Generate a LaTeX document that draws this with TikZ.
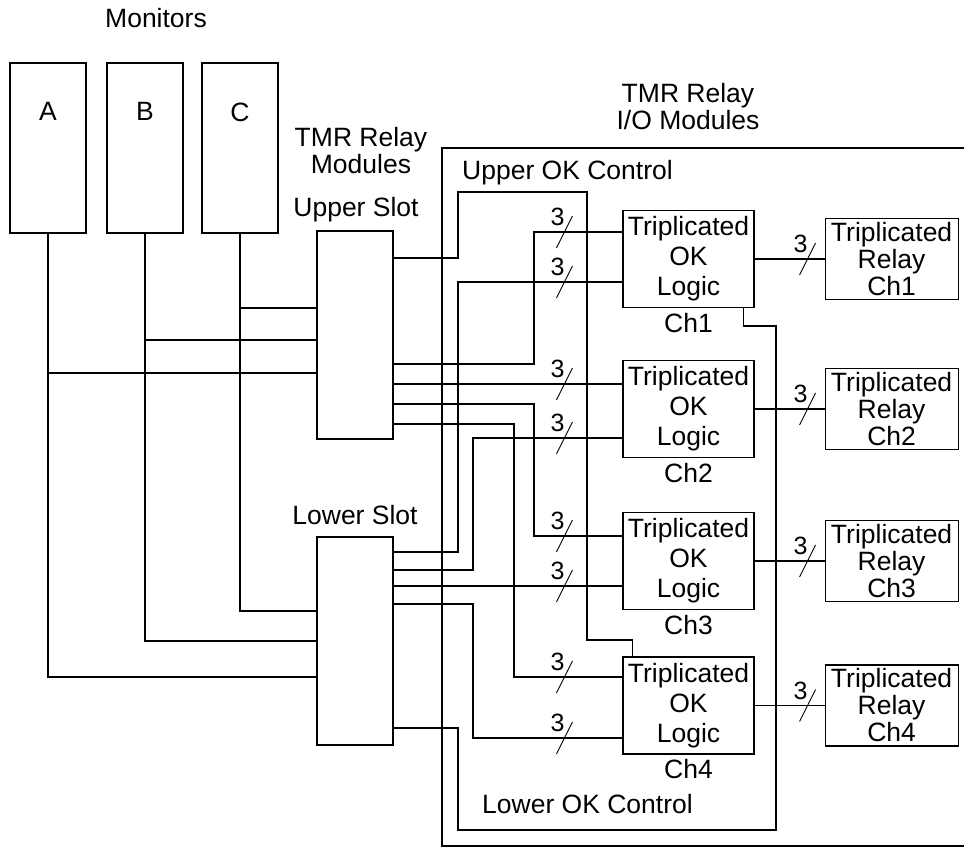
\documentclass[tikz,border=0pt]{standalone}
\usepackage{fontspec}
\setmainfont{Liberation Sans}
\usetikzlibrary{positioning, calc}

\begin{document}
\begin{tikzpicture}[
    x=1pt, y=-1pt,
    wire/.style={line width=1.1pt},
    box/.style={rectangle, draw, line width=1.1pt, inner sep=0pt, align=center, font=\fontsize{26.5}{27}\selectfont},
    monbox/.style={box, minimum width=76pt, minimum height=170pt},
    slotbox/.style={box, minimum width=76pt, minimum height=208pt},
    okbox/.style={box, minimum width=131pt, minimum height=97pt, font=\fontsize{26.5}{30}\selectfont},
    relaybox/.style={box, minimum width=133pt, minimum height=81pt},
    lbl/.style={inner sep=0pt, align=center, font=\fontsize{26.5}{27}\selectfont},
    numlbl/.style={inner sep=0pt, font=\fontsize{25}{25}\selectfont},
    busmark/.pic={\draw[line width=0.9pt] (-8,16) -- (8,-16); \node[numlbl, anchor=base] at (-7,-6.5) {3};},
]
\useasboundingbox (0,0) rectangle (964,850);

% Monitors
\node[lbl, anchor=base] (montitle) at (156,28) {Monitors};
\node[monbox] (monA) at (48,148) {};
\node[monbox] (monB) at (145,148) {};
\node[monbox] (monC) at (240,148) {};
\node[lbl, below=40pt of monA.north] (labA) {A};
\node[lbl, below=40pt of monB.north] (labB) {B};
\node[lbl, below=40pt of monC.north] (labC) {C};

% Relay modules
\node[lbl] (relmod) at (361,151) {TMR Relay\\Modules};
\node[lbl, anchor=base] (uptitle) at (356,217) {Upper Slot};
\node[slotbox] (up) at (355,335) {};
\node[lbl, anchor=base] (lotitle) at (355,524) {Lower Slot};
\node[slotbox] (lo) at (355,641) {};

% I/O modules
\node[lbl] (iotitle) at (688,107) {TMR Relay\\I/O Modules};
\draw[wire] (964,148) -| (442,846) -- (964,846);
\node[lbl, anchor=base west] (upctl) at (462,180) {Upper OK Control};
\node[lbl, anchor=base west] (loctl) at (482,813) {Lower OK Control};

\node[okbox] (ok1) at (688.5,259) {Triplicated\\OK\\Logic};
\node[okbox] (ok2) at (688.5,409) {Triplicated\\OK\\Logic};
\node[okbox] (ok3) at (688.5,561) {Triplicated\\OK\\Logic};
\node[okbox] (ok4) at (688.5,705.5) {Triplicated\\OK\\Logic};
\node[lbl, below=5pt of ok1] (ch1) {Ch1};
\node[lbl, below=5pt of ok2] (ch2) {Ch2};
\node[lbl, below=5pt of ok3] (ch3) {Ch3};
\node[lbl, below=5pt of ok4] (ch4) {Ch4};

\node[relaybox, right=70pt of ok1] (rel1) {Triplicated\\Relay\\Ch1};
\node[relaybox, right=70pt of ok2] (rel2) {Triplicated\\Relay\\Ch2};
\node[relaybox, right=70pt of ok3] (rel3) {Triplicated\\Relay\\Ch3};
\node[relaybox, right=70pt of ok4] (rel4) {Triplicated\\Relay\\Ch4};

% Input pins
\coordinate (ok1a) at (ok1.west |- 0,232);
\coordinate (ok1b) at (ok1.west |- 0,282);
\coordinate (ok2a) at (ok2.west |- 0,384);
\coordinate (ok2b) at (ok2.west |- 0,438);
\coordinate (ok3a) at (ok3.west |- 0,536);
\coordinate (ok3b) at (ok3.west |- 0,586);
\coordinate (ok4a) at (ok4.west |- 0,677);
\coordinate (ok4b) at (ok4.west |- 0,738);

% Monitor wires
\draw[wire] (monA.south) |- (lo.west |- 0,677);
\draw[wire] (monA.south |- 0,373) -- (up.west |- 0,373);
\draw[wire] (monB.south) |- (lo.west |- 0,641);
\draw[wire] (monB.south |- 0,340) -- (up.west |- 0,340);
\draw[wire] (monC.south) |- (lo.west |- 0,611);
\draw[wire] (monC.south |- 0,308) -- (up.west |- 0,308);

% Upper slot
\draw[wire] (up.east |- 0,258) -| (458,192) -| (587,640) -| ($(ok4.north west)+(10,0)$);
\draw[wire] (up.east |- 0,364) -| (534,232) -- (ok1a);
\draw[wire] (up.east |- 0,384) -- (ok2a);
\draw[wire] (up.east |- 0,404) -| (534,536) -- (ok3a);
\draw[wire] (up.east |- 0,424) -| (514,677) -- (ok4a);

% Lower slot
\draw[wire] (lo.east |- 0,552) -| (458,282) -- (ok1b);
\draw[wire] (lo.east |- 0,570) -| (473,438) -- (ok2b);
\draw[wire] (lo.east |- 0,586) -- (ok3b);
\draw[wire] (lo.east |- 0,604) -| (473,738) -- (ok4b);
\draw[wire] (lo.east |- 0,728) -| (458,830) -| (776,326) -| ($(ok1.south east)+(-11,0)$);

% Outputs
\draw[wire] (ok1) -- (rel1);
\draw[wire] (ok2) -- (rel2);
\draw[wire] (ok3) -- (rel3);
\draw[wire] (ok4) -- (rel4);

% Bus marks
\pic at ($(ok1a)+(-58,0)$) {busmark};
\pic at ($(ok1b)+(-58,0)$) {busmark};
\pic at ($(ok2a)+(-58,0)$) {busmark};
\pic at ($(ok2b)+(-58,0)$) {busmark};
\pic at ($(ok3a)+(-58,0)$) {busmark};
\pic at ($(ok3b)+(-58,0)$) {busmark};
\pic at ($(ok4a)+(-58,0)$) {busmark};
\pic at ($(ok4b)+(-58,0)$) {busmark};
\pic at ($(ok1.east)+(53,0)$) {busmark};
\pic at ($(ok2.east)+(53,0)$) {busmark};
\pic at ($(ok3.east)+(53,0)$) {busmark};
\pic at ($(ok4.east)+(53,0)$) {busmark};

\end{tikzpicture}
\end{document}
